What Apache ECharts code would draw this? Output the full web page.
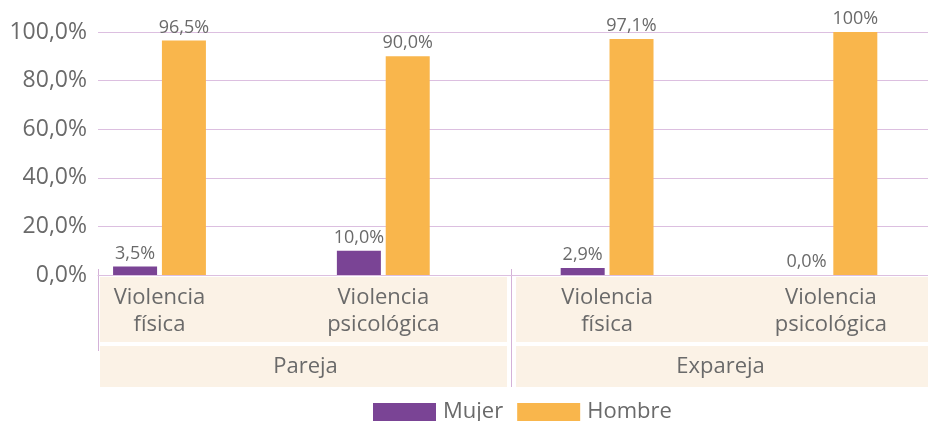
<!DOCTYPE html>
<html><head><meta charset="utf-8">
<script src="https://cdn.jsdelivr.net/npm/echarts@6/dist/echarts.min.js"></script>
<style>html,body{margin:0;padding:0;background:#fff}#c{width:928px;height:421px}</style>
</head><body><div id="c"></div>
<script>
const categories = ['Violencia\nfísica', 'Violencia\npsicológica', 'Violencia\nfísica', 'Violencia\npsicológica'];
const groups = ['Pareja', 'Expareja'];
const seriesNames = ['Mujer', 'Hombre'];
const mujer = [3.5, 10.0, 2.9, 0.0];
const hombre = [96.5, 90.0, 97.1, 100];
const mujerLabels = ['3,5%', '10,0%', '2,9%', '0,0%'];
const hombreLabels = ['96,5%', '90,0%', '97,1%', '100%'];
const yTicks = ['0,0%', '20,0%', '40,0%', '60,0%', '80,0%', '100,0%'];

const FONT = 'Open Sans';
const TXT = '#6a6a6a';
const GRIDC = '#dcbfe0';
const SEPC = '#d4b2d8';
const BOX = '#fbf2e6';
const PURPLE = '#7a4495';
const ORANGE = '#f9b64c';

const chart = echarts.init(document.getElementById('c'), null, {renderer: 'canvas'});
chart.setOption({
  animation: false,
  backgroundColor: '#fff',
  textStyle: {fontFamily: FONT, color: TXT},
  grid: [
    {left: 98, right: 0, top: 32, bottom: 146, outerBoundsMode: 'none'},
    {left: 47.6, width: 895.2, top: 32, bottom: 146, outerBoundsMode: 'none'}
  ],
  xAxis: [
    {
      gridIndex: 0, type: 'category', data: groups,
      axisLine: {show: true, lineStyle: {color: GRIDC, width: 1}},
      axisTick: {show: false},
      axisLabel: {margin: 71, fontSize: 22, lineHeight: 41, color: TXT, fontFamily: FONT}
    },
    {
      gridIndex: 1, type: 'category', data: categories,
      axisLine: {show: false}, axisTick: {show: false},
      axisLabel: {margin: 9, fontSize: 22, lineHeight: 27, color: TXT, fontFamily: FONT, interval: 0}
    }
  ],
  yAxis: [
    {
      gridIndex: 0, type: 'value', min: 0, max: 100, interval: 20,
      axisLine: {show: false}, axisTick: {show: false},
      splitLine: {show: true, lineStyle: {color: GRIDC, width: 1}},
      axisLabel: {
        margin: 11, fontSize: 23, color: TXT, fontFamily: FONT, padding: [0, 0, 14, 0],
        formatter: v => yTicks[Math.round(v / 20)]
      }
    },
    {
      gridIndex: 1, type: 'value', min: 0, max: 100, interval: 20,
      axisLine: {show: false}, axisTick: {show: false}, splitLine: {show: false}, axisLabel: {show: false}
    }
  ],
  legend: {
    data: seriesNames, left: 373, top: 401, padding: 0, itemWidth: 63, itemHeight: 18, itemGap: 14,
    icon: 'rect',
    textStyle: {fontSize: 22, color: TXT, fontFamily: FONT, padding: [0, 0, 0, 2]}
  },
  graphic: [
    {type: 'rect', z: -1, shape: {x: 100, y: 277, width: 407, height: 65}, style: {fill: BOX}},
    {type: 'rect', z: -1, shape: {x: 516, y: 277, width: 412, height: 65}, style: {fill: BOX}},
    {type: 'rect', z: -1, shape: {x: 100, y: 346, width: 407, height: 41}, style: {fill: BOX}},
    {type: 'rect', z: -1, shape: {x: 516, y: 346, width: 412, height: 41}, style: {fill: BOX}},
    {type: 'line', shape: {x1: 98.5, y1: 269, x2: 98.5, y2: 351}, style: {stroke: SEPC, lineWidth: 1}},
    {type: 'line', shape: {x1: 511.5, y1: 269, x2: 511.5, y2: 387}, style: {stroke: SEPC, lineWidth: 1}}
  ],
  series: [
    {
      name: seriesNames[0], type: 'bar', xAxisIndex: 1, yAxisIndex: 1, data: mujer,
      barWidth: 44, barGap: '11%', itemStyle: {color: PURPLE},
      label: {show: true, position: 'top', distance: 4, fontSize: 18, color: TXT, fontFamily: FONT,
        formatter: p => mujerLabels[p.dataIndex]}
    },
    {
      name: seriesNames[1], type: 'bar', xAxisIndex: 1, yAxisIndex: 1, data: hombre,
      barWidth: 44, barGap: '11%', itemStyle: {color: ORANGE},
      label: {show: true, position: 'top', distance: 4, fontSize: 18, color: TXT, fontFamily: FONT,
        formatter: p => hombreLabels[p.dataIndex]}
    }
  ]
});
</script>
</body></html>
